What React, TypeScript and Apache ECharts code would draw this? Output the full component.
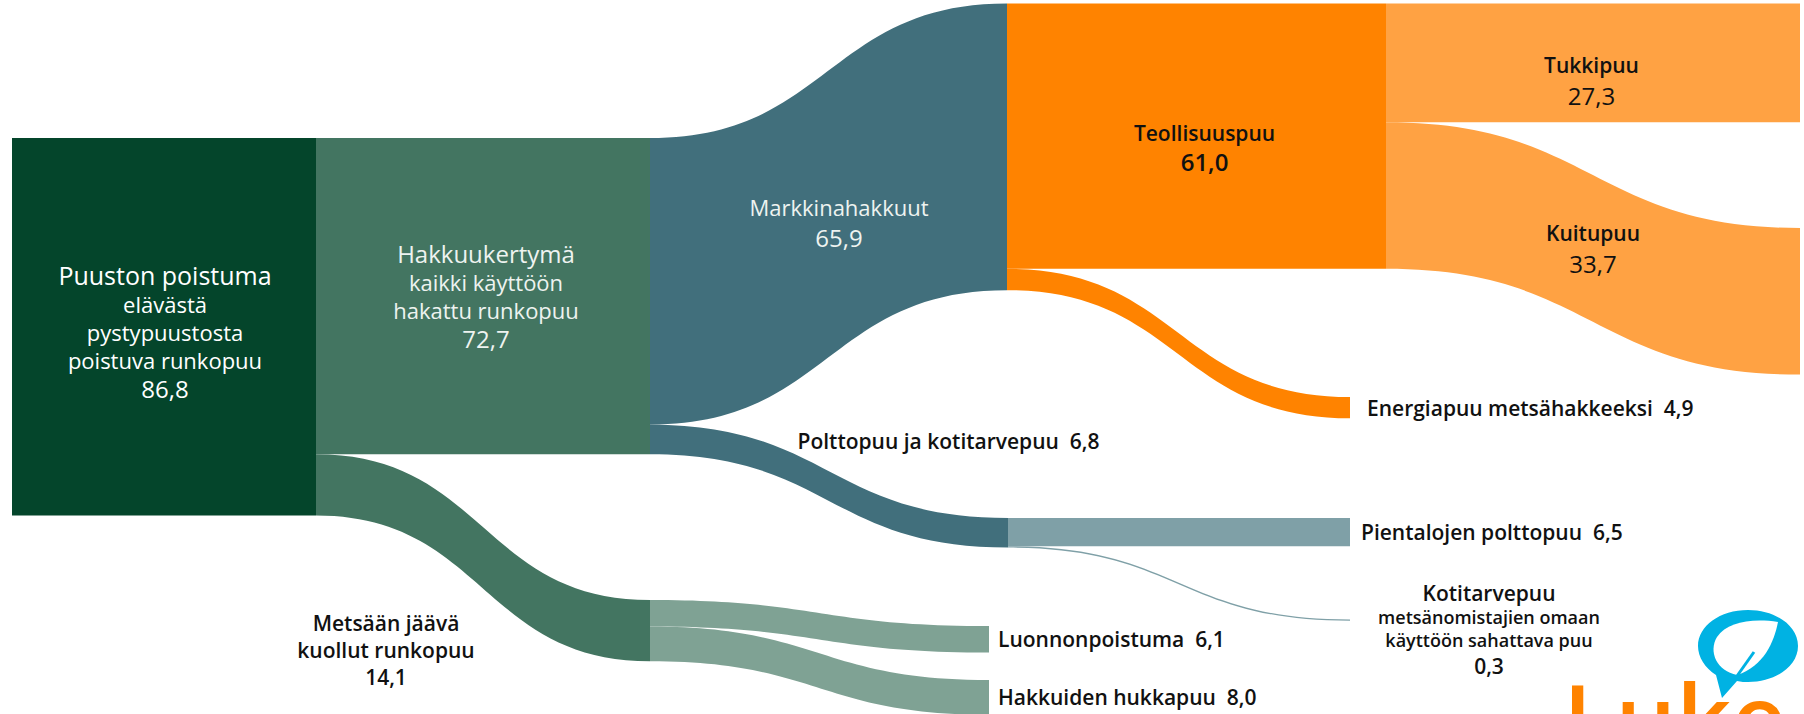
import React, { useEffect, useRef } from 'react';
import * as echarts from 'echarts';

// ---------- DATA ----------
const nodeIds = [
  'poistumaAlku', 'poistuma', 'hakkuukertyma', 'metsaan', 'markkina', 'polttopuu',
  'luonnon', 'hukka', 'teollisuus', 'energia', 'pientalo', 'kotitarve', 'tukki', 'kuitu',
];
const linkSources = [
  'poistumaAlku', 'poistuma', 'poistuma', 'hakkuukertyma', 'hakkuukertyma',
  'markkina', 'markkina', 'polttopuu', 'polttopuu', 'metsaan', 'metsaan', 'teollisuus', 'teollisuus',
];
const linkTargets = [
  'poistuma', 'hakkuukertyma', 'metsaan', 'markkina', 'polttopuu',
  'teollisuus', 'energia', 'pientalo', 'kotitarve', 'luonnon', 'hukka', 'tukki', 'kuitu',
];
const linkValues = [86.8, 72.7, 14.1, 65.9, 6.8, 61.0, 4.9, 6.5, 0.3, 6.1, 8.0, 27.3, 33.7];

const labelTitles: Record<string, string[]> = {
  poistuma: ['Puuston poistuma', 'elävästä', 'pystypuustosta', 'poistuva runkopuu'],
  hakkuukertyma: ['Hakkuukertymä', 'kaikki käyttöön', 'hakattu runkopuu'],
  markkina: ['Markkinahakkuut'],
  teollisuus: ['Teollisuuspuu'],
  tukki: ['Tukkipuu'],
  kuitu: ['Kuitupuu'],
  polttopuu: ['Polttopuu ja kotitarvepuu'],
  metsaan: ['Metsään jäävä', 'kuollut runkopuu'],
  energia: ['Energiapuu metsähakkeeksi'],
  pientalo: ['Pientalojen polttopuu'],
  kotitarve: ['Kotitarvepuu', 'metsänomistajien omaan', 'käyttöön sahattava puu'],
  luonnon: ['Luonnonpoistuma'],
  hukka: ['Hakkuiden hukkapuu'],
};

// ---------- LAYOUT / STYLE ----------
const W = 1804;
const H = 714;
const PX_PER_UNIT = 4.35;
const FONT = '"Open Sans", "Noto Sans", sans-serif';

const linkColors = [
  '#04452B', '#437561', '#437561', '#416F7C', '#416F7C',
  '#FF8300', '#FF8300', '#7FA0A7', '#7FA0A7', '#7FA294', '#7FA294', '#FFA243', '#FFA243',
];

// node positions (px) of the manually arranged diagram
const nodePos: Record<string, [number, number]> = {
  poistumaAlku: [12, 138],
  poistuma: [316, 138],
  hakkuukertyma: [650, 138],
  metsaan: [650, 600],
  markkina: [1007, 3.5],
  polttopuu: [1008, 518],
  luonnon: [989, 626],
  hukka: [989, 680],
  teollisuus: [1386, 3.5],
  energia: [1350, 397],
  pientalo: [1350, 518],
  kotitarve: [1350, 619.5],
  tukki: [1800, 3.5],
  kuitu: [1800, 228],
};

type Tok = [number, number, number, string]; // size, lineHeight, weight, color
type CenterSpec = { at: [number, number]; h: Tok; s?: Tok; n: Tok; inline?: boolean };
const WHITE = '#FFFFFF';
const SOFT = '#EEF3F0';
const DARK = '#111111';

const centerLabels: Record<string, CenterSpec> = {
  poistuma: { at: [165, 331], h: [25, 30, 400, WHITE], s: [22, 28, 400, WHITE], n: [24, 28, 400, WHITE] },
  hakkuukertyma: { at: [486, 295], h: [24, 30, 400, SOFT], s: [22, 28, 400, SOFT], n: [24, 28, 400, SOFT] },
  markkina: { at: [839, 222], h: [22, 30, 400, SOFT], n: [24, 30, 400, SOFT] },
  teollisuus: { at: [1204.5, 147], h: [21, 29, 600, DARK], n: [24, 29, 600, DARK] },
  tukki: { at: [1591.5, 80], h: [21, 30, 600, DARK], n: [24, 30, 400, DARK] },
  kuitu: { at: [1593, 248], h: [21, 30, 600, DARK], n: [24, 30, 400, DARK] },
  metsaan: { at: [386, 650], h: [21, 27, 600, DARK], s: [21, 27, 600, DARK], n: [21, 27, 600, DARK] },
  kotitarve: { at: [1489, 631], h: [21, 24, 600, DARK], s: [18, 23, 600, DARK], n: [21, 30, 600, DARK] },
  polttopuu: { at: [948.5, 441], h: [21, 28, 600, DARK], n: [21, 28, 600, DARK], inline: true },
};
const rightLabels: Record<string, number> = { energia: 17, pientalo: 11, luonnon: 9, hukka: 9 };

// ---------- helpers ----------
const fmt = (v: number) => v.toFixed(1).replace('.', ',');
const nodeValue = (id: string) =>
  linkTargets.reduce((acc, t, i) => (t === id ? acc + linkValues[i] : acc), 0);
const tokStyle = (t: Tok) => ({
  fontSize: t[0], lineHeight: t[1], fontWeight: t[2], color: t[3], fontFamily: FONT,
});

function buildLabel(id: string): any {
  const titles = labelTitles[id];
  if (!titles) return { show: false };
  const num = fmt(nodeValue(id));
  const c = centerLabels[id];
  if (c) {
    let text: string;
    if (c.inline) {
      text = `{h|${titles[0]}  ${num}}`;
    } else {
      const lines = titles.map((t, i) => (i === 0 ? `{h|${t}}` : `{s|${t}}`));
      lines.push(`{n|${num}}`);
      text = lines.join('\n');
    }
    const [nx, ny] = nodePos[id];
    const rich: any = { h: tokStyle(c.h), n: tokStyle(c.n) };
    if (c.s) rich.s = tokStyle(c.s);
    return {
      show: true,
      position: [c.at[0] - nx, c.at[1] - ny],
      align: 'center',
      verticalAlign: 'middle',
      formatter: text,
      rich,
    };
  }
  return {
    show: true,
    position: 'right',
    distance: rightLabels[id] ?? 10,
    formatter: `${titles[0]}  ${num}`,
    fontSize: 21,
    fontWeight: 600,
    color: DARK,
    fontFamily: FONT,
  };
}

// Luke logo shapes
let shapesRegistered = false;
function registerLogo() {
  if (shapesRegistered) return;
  shapesRegistered = true;
  echarts.graphic.registerShape(
    'lukeBubble',
    echarts.graphic.extendPath(
      'M158 66 C158 46 180 30 208 30 C236 30 258 46 258 66 C258 86 236 102 208 102 C205 102 201 102 197 101 L182 118 L176 95 C165 88 158 77 158 66 Z',
      {}
    ) as any
  );
  echarts.graphic.registerShape(
    'lukeLeaf',
    echarts.graphic.extendPath(
      'M197 95 C177 91 168 72 177 57 C187 42 212 38 238 42 C234 62 224 86 197 95 Z',
      {}
    ) as any
  );
}

function buildOption(): any {
  const rootValue = linkValues[0];
  const seriesHeight = rootValue * PX_PER_UNIT;
  const nodes = nodeIds.map((id) => ({
    name: id,
    localX: nodePos[id][0] / W,
    localY: nodePos[id][1] / seriesHeight,
    itemStyle: { color: 'transparent', borderWidth: 0 },
    label: buildLabel(id),
  }));
  const links = linkValues.map((v, i) => ({
    source: linkSources[i],
    target: linkTargets[i],
    value: v,
    lineStyle: { color: linkColors[i], opacity: 1 },
  }));
  return {
    animation: false,
    backgroundColor: '#ffffff',
    tooltip: { show: false },
    series: [
      {
        type: 'sankey',
        left: 0,
        top: 0,
        width: W,
        height: seriesHeight,
        nodeWidth: 0,
        nodeGap: 0,
        nodeAlign: 'left',
        layoutIterations: 0,
        draggable: false,
        emphasis: { disabled: true },
        label: { show: false, fontFamily: FONT },
        lineStyle: { curveness: 0.5, opacity: 1 },
        data: nodes,
        links,
      },
    ],
    graphic: [
      { type: 'lukeBubble', x: 1540, y: 580, style: { fill: '#00B2E3' }, silent: true },
      { type: 'lukeLeaf', x: 1540, y: 580, style: { fill: '#FFFFFF' }, silent: true },
      {
        type: 'line',
        shape: { x1: 1737, y1: 676, x2: 1754, y2: 652 },
        style: { stroke: '#00B2E3', lineWidth: 3 },
        silent: true,
      },
      {
        type: 'text',
        x: 1563,
        y: 668,
        silent: true,
        style: {
          text: 'Luke',
          fontSize: 96,
          fontWeight: 600,
          fontFamily: FONT,
          fill: '#FF8300',
          align: 'left',
          verticalAlign: 'top',
        },
      },
    ],
  };
}

export default function App() {
  const ref = useRef<HTMLDivElement>(null);
  useEffect(() => {
    if (!ref.current) return;
    document.body.style.margin = '0';
    registerLogo();
    const chart = echarts.init(ref.current, null, { renderer: 'svg', width: W, height: H });
    chart.setOption(buildOption());
    return () => chart.dispose();
  }, []);
  return (
    <div
      ref={ref}
      style={{ position: 'relative', width: W, height: H, background: '#fff', overflow: 'hidden' }}
    />
  );
}
